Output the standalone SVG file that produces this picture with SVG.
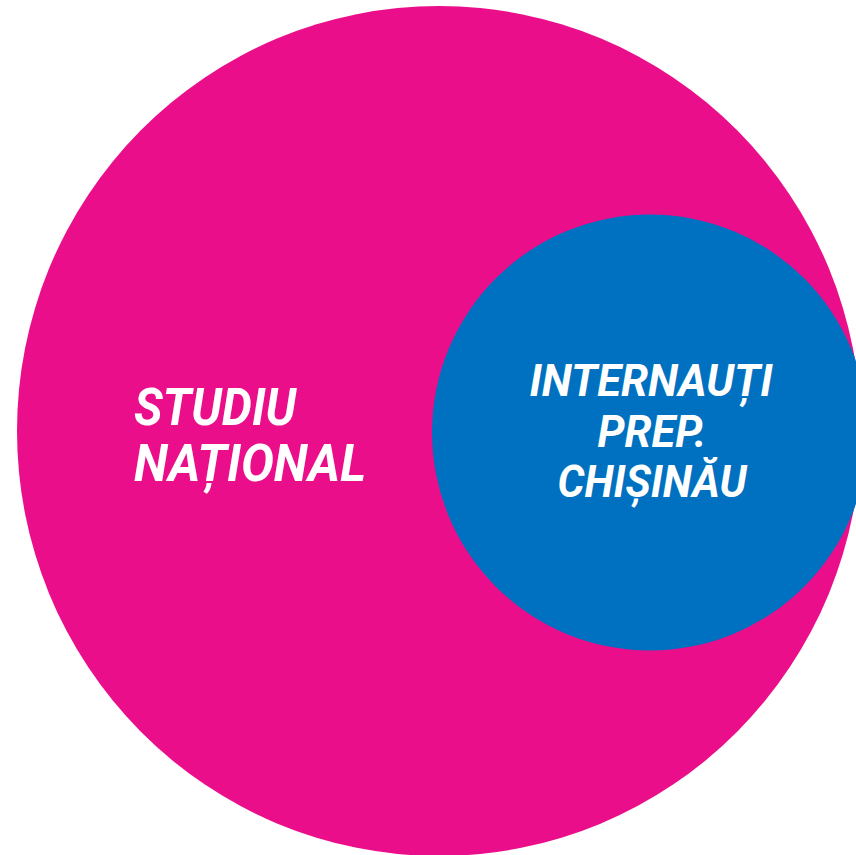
<svg xmlns="http://www.w3.org/2000/svg" width="856" height="855" viewBox="0 0 856 855">
  <style>
    .label { font-family: Roboto, "Liberation Sans", sans-serif; font-weight: 700; font-style: italic; fill: #ffffff; }
    .big { font-size: 51px; }
    .small { font-size: 44px; }
  </style>
  <rect width="856" height="855" fill="#ffffff"/>
  <g id="studiu-national">
    <ellipse cx="439" cy="431" rx="422" ry="425" fill="#EB0E8B"/>
    <text class="label big" x="134" y="425" textLength="162" lengthAdjust="spacingAndGlyphs">STUDIU</text>
    <text class="label big" x="134" y="481" textLength="232" lengthAdjust="spacingAndGlyphs">NAȚIONAL</text>
  </g>
  <g id="internauti-chisinau">
    <circle cx="650" cy="432.5" r="218" fill="#0071C0"/>
    <text class="label small" x="651" y="395.5" text-anchor="middle" textLength="243" lengthAdjust="spacingAndGlyphs">INTERNAUȚI</text>
    <text class="label small" x="652" y="446.5" text-anchor="middle" textLength="109" lengthAdjust="spacingAndGlyphs">PREP.</text>
    <text class="label small" x="652" y="497" text-anchor="middle" textLength="189" lengthAdjust="spacingAndGlyphs">CHIȘINĂU</text>
  </g>
  <g id="connectors"/>
</svg>
